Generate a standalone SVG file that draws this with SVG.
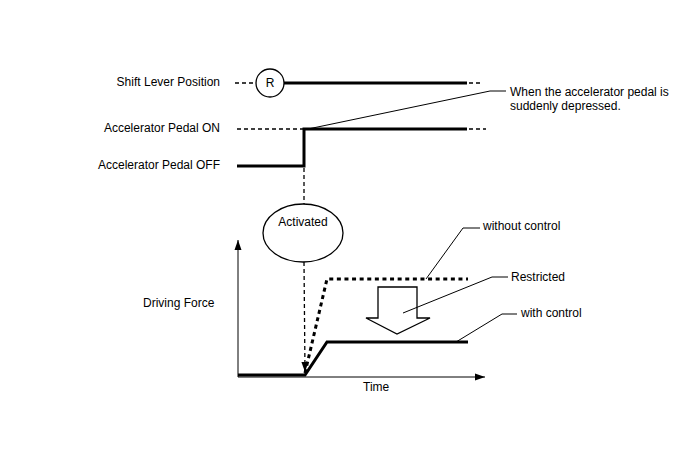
<svg xmlns="http://www.w3.org/2000/svg" width="688" height="463" viewBox="0 0 688 463">
<style>
text{font-family:"Liberation Sans",Arial,sans-serif;font-size:12px;fill:#000}
.r{text-anchor:end}
.m{text-anchor:middle}
.thick{stroke:#000;stroke-width:3;fill:none}
.dash{stroke:#000;stroke-width:1.3;fill:none;stroke-dasharray:4 3}
.thin{stroke:#000;stroke-width:1;fill:none}
</style>
<defs>
<marker id="ah" viewBox="0 0 10 10" refX="10" refY="5" markerWidth="10" markerHeight="10" markerUnits="userSpaceOnUse" orient="auto">
<path d="M0,1.5 L10,5 L0,8.5 Z" fill="#000"/>
</marker>
</defs>
<g id="labels">
<text class="r" x="220" y="86">Shift Lever Position</text>
<text class="r" x="220" y="132">Accelerator Pedal ON</text>
<text class="r" x="220" y="169">Accelerator Pedal OFF</text>
<text x="143" y="307">Driving Force</text>
<text x="363" y="391">Time</text>
</g>
<g id="node-R">
<circle cx="270" cy="83" r="14" fill="#fff" stroke="#000" stroke-width="1.3"/>
<text class="m" x="270" y="87">R</text>
</g>
<g id="node-activated">
<ellipse cx="303" cy="233" rx="40" ry="29" fill="#fff" stroke="#000" stroke-width="1.3"/>
<text class="m" x="303" y="226">Activated</text>
</g>
<g id="node-restricted-arrow">
<path d="M378,287 L417,287 L417,318 L430,318 L397,334 L366,318 L378,318 Z" fill="#fff" stroke="#000" stroke-width="1.3"/>
</g>
<g id="connectors">
<line class="dash" x1="235" y1="83" x2="256" y2="83"/>
<line class="thick" x1="284" y1="83" x2="467" y2="83"/>
<line class="dash" x1="469" y1="83" x2="481" y2="83"/>
<line class="dash" x1="237" y1="129" x2="303" y2="129"/>
<polyline class="thick" points="237,166 304,166 304,129 467,129"/>
<line class="dash" x1="469" y1="129" x2="486" y2="129"/>
<line class="dash" x1="304" y1="168" x2="304" y2="204"/>
<line class="thin" x1="238" y1="377" x2="238" y2="240" marker-end="url(#ah)"/>
<line class="thin" x1="238" y1="377" x2="485" y2="377" marker-end="url(#ah)"/>
<line class="dash" x1="304" y1="262" x2="305" y2="372" marker-end="url(#ah)"/>
<polyline class="thick" points="238,375 305,375 327,342 468,342"/>
<polyline class="thick" stroke-dasharray="4 3.6" points="305,373 327,279 468,279"/>
<polyline class="thin" points="308,129 490,91 506,91"/>
<polyline class="thin" points="426,279 463,228 480,228"/>
<polyline class="thin" points="403,313 492,277 508,277"/>
<polyline class="thin" points="456,342 502,314 517,314"/>
</g>
<g id="annotations">
<text x="510" y="96">When the accelerator pedal is</text>
<text x="510" y="110">suddenly depressed.</text>
<text x="483" y="230">without control</text>
<text x="511" y="281">Restricted</text>
<text x="521" y="317">with control</text>
</g>
</svg>
